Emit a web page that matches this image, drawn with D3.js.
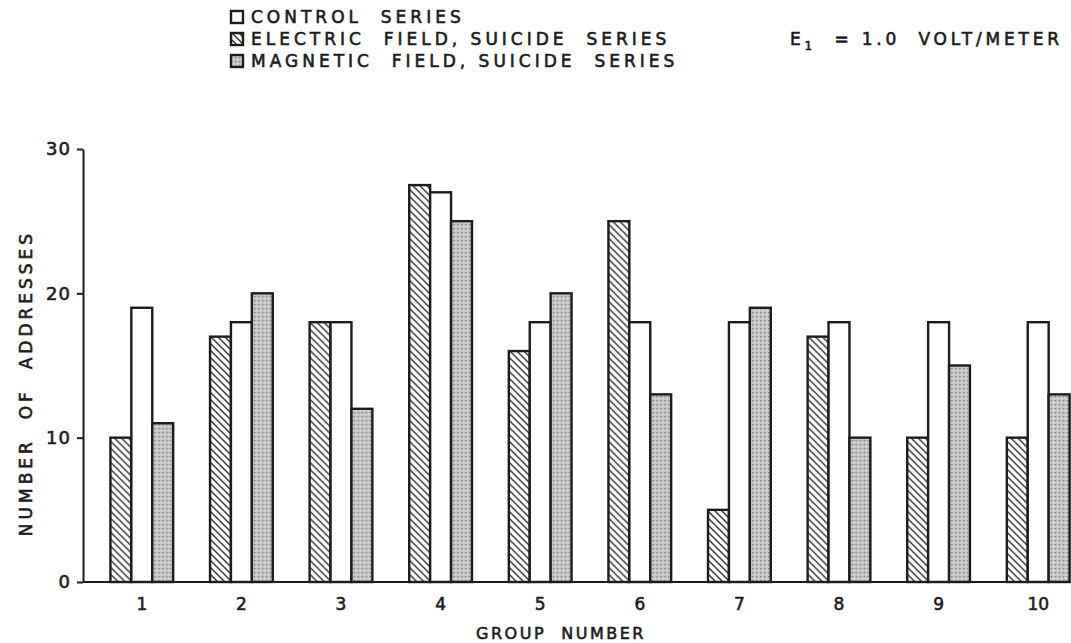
<!DOCTYPE html>
<html>
<head>
<meta charset="utf-8">
<script src="https://cdn.jsdelivr.net/npm/d3@7"></script>
<style>
  body { margin: 0; background: #fff; }
  text { font-family: "DejaVu Sans", sans-serif; fill: #1c1c1c; stroke: #1c1c1c; stroke-width: 0.6px; white-space: pre; }
</style>
</head>
<body>
<svg></svg>
<script>
/* global d3 */

const groups = ['1', '2', '3', '4', '5', '6', '7', '8', '9', '10'];
const electric = [10, 17, 18, 27.5, 16, 25, 5, 17, 10, 10];
const control = [19, 18, 18, 27, 18, 18, 18, 18, 18, 18];
const magnetic = [11, 20, 12, 25, 20, 13, 19, 10, 15, 13];
const seriesKeys = ['electric', 'control', 'magnetic'];
const legendKeys = ['control', 'electric', 'magnetic'];
const legendLabels = ['CONTROL  SERIES', 'ELECTRIC  FIELD, SUICIDE  SERIES', 'MAGNETIC  FIELD, SUICIDE  SERIES'];
const yTicks = [0, 10, 20, 30];

const width = 1071;
const height = 643;
const ink = '#1c1c1c';
const fillFor = { control: '#fff', electric: 'url(#hatch)', magnetic: 'url(#stipple)' };
const values = { electric, control, magnetic };

const svg = d3.select('svg')
  .attr('width', width)
  .attr('height', height);

// fill patterns
const defs = svg.append('defs');
const hatch = defs.append('pattern')
  .attr('id', 'hatch')
  .attr('patternUnits', 'userSpaceOnUse')
  .attr('width', 7)
  .attr('height', 7);
hatch.append('rect').attr('width', 7).attr('height', 7).attr('fill', '#fff');
hatch.append('path')
  .attr('d', 'M-1,-1 L8,8 M-1,6 L1,8 M6,-1 L8,1')
  .attr('stroke', '#333')
  .attr('stroke-width', 1.4);

const stipple = defs.append('pattern')
  .attr('id', 'stipple')
  .attr('patternUnits', 'userSpaceOnUse')
  .attr('width', 4)
  .attr('height', 4);
stipple.append('rect').attr('width', 4).attr('height', 4).attr('fill', '#c4c4c4');
stipple.append('rect').attr('x', 0).attr('y', 0).attr('width', 1.3).attr('height', 1.3).attr('fill', '#7c7c7c');
stipple.append('rect').attr('x', 2).attr('y', 2).attr('width', 1.3).attr('height', 1.3).attr('fill', '#e6e6e6');

const axisX = 83;

const y = d3.scaleLinear()
  .domain([0, 30])
  .range([582, 149]);

const x = d3.scaleBand()
  .domain(groups)
  .range([92, 1088])
  .paddingInner(0.37)
  .paddingOuter(0.185);

const xs = d3.scaleBand()
  .domain(seriesKeys)
  .range([0, x.bandwidth()]);

// bars
const group = svg.append('g').selectAll('g')
  .data(groups)
  .enter().append('g')
    .attr('transform', d => `translate(${x(d)},0)`);

group.selectAll('rect')
  .data((d, i) => seriesKeys.map(k => ({ key: k, value: values[k][i] })))
  .enter().append('rect')
    .attr('x', d => xs(d.key))
    .attr('y', d => y(d.value))
    .attr('width', xs.bandwidth())
    .attr('height', d => y(0) - y(d.value))
    .attr('fill', d => fillFor[d.key])
    .attr('stroke', ink)
    .attr('stroke-width', 2.4);

// y axis
const yAxis = svg.append('g')
  .attr('transform', `translate(${axisX},0)`)
  .call(d3.axisLeft(y).tickValues(yTicks).tickSize(6).tickSizeOuter(0).tickPadding(6));
yAxis.select('.domain').attr('stroke', ink).attr('stroke-width', 2);
yAxis.selectAll('.tick line').attr('stroke', ink).attr('stroke-width', 2);
yAxis.selectAll('.tick text')
  .attr('font-size', 18)
  .attr('letter-spacing', 1)
  .style('font-family', '"DejaVu Sans", sans-serif')
  .attr('fill', ink);

// x axis
const xAxis = svg.append('g')
  .attr('transform', `translate(0,${y(0)})`)
  .call(d3.axisBottom(x).tickSize(0).tickPadding(16));
xAxis.select('.domain').remove();
xAxis.selectAll('.tick text')
  .attr('font-size', 17)
  .style('font-family', '"DejaVu Sans", sans-serif')
  .attr('fill', ink);

svg.append('line')
  .attr('x1', axisX)
  .attr('x2', width)
  .attr('y1', y(0))
  .attr('y2', y(0))
  .attr('stroke', ink)
  .attr('stroke-width', 2);

// axis titles
svg.append('text')
  .attr('x', 561)
  .attr('y', 639)
  .attr('text-anchor', 'middle')
  .attr('font-size', 16)
  .attr('letter-spacing', 2.5)
  .text('GROUP  NUMBER');

svg.append('text')
  .attr('transform', 'translate(32,383) rotate(-90)')
  .attr('text-anchor', 'middle')
  .attr('font-size', 17)
  .attr('letter-spacing', 4)
  .text('NUMBER  OF  ADDRESSES');

// legend
const legendY = d3.scalePoint()
  .domain(legendKeys)
  .range([17, 61]);

const legend = svg.append('g').selectAll('g')
  .data(legendKeys)
  .enter().append('g')
    .attr('transform', d => `translate(231,${legendY(d)})`);

legend.append('rect')
  .attr('x', 0)
  .attr('y', -6)
  .attr('width', 12)
  .attr('height', 12)
  .attr('fill', d => fillFor[d])
  .attr('stroke', ink)
  .attr('stroke-width', 2.4);

legend.append('text')
  .attr('x', 20)
  .attr('dy', '0.36em')
  .attr('font-size', 17)
  .attr('letter-spacing', 4)
  .text(d => legendLabels[legendKeys.indexOf(d)]);

const eNote = svg.append('text')
  .attr('x', 790)
  .attr('y', legendY('electric'))
  .attr('dy', '0.36em')
  .attr('font-size', 17)
  .attr('letter-spacing', 3.8);
eNote.append('tspan').text('E');
eNote.append('tspan').attr('font-size', 12).attr('dy', 5).text('1');
eNote.append('tspan').attr('dy', -5).text('  = 1.0  VOLT/METER');
</script>
</body>
</html>
